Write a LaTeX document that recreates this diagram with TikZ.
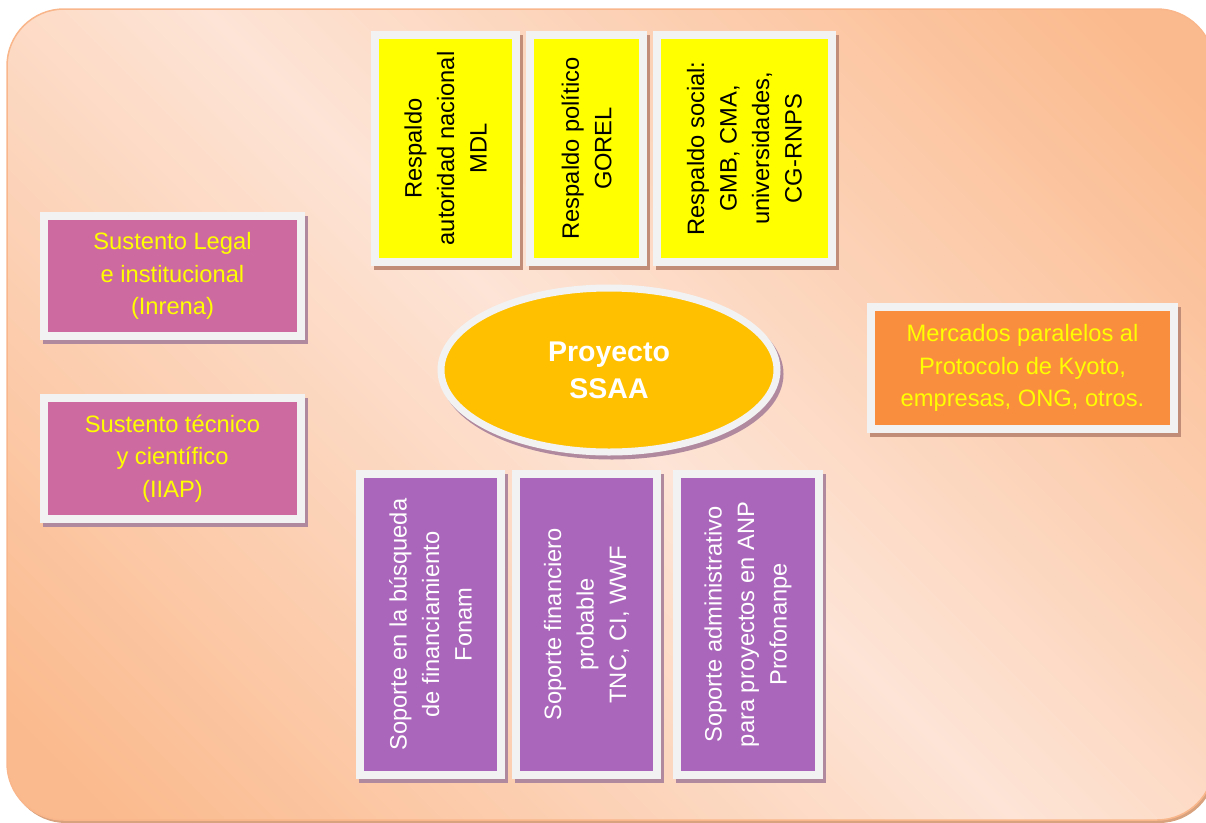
\documentclass[tikz,border=0pt]{standalone}
\usepackage{fontspec}
\setmainfont{Liberation Sans}
\usetikzlibrary{shapes.geometric,shadows}
\definecolor{bglt}{HTML}{FDE4D6}
\definecolor{bgdk}{HTML}{FBBA8D}
\definecolor{bgedge}{HTML}{F9B68A}
\definecolor{bgshadow}{HTML}{D9A27E}
\definecolor{framecol}{HTML}{F2F2F2}
\definecolor{yel}{HTML}{FFFF00}
\definecolor{pinkbox}{HTML}{CD6BA0}
\definecolor{purplebox}{HTML}{A966BA}
\definecolor{orangebox}{HTML}{F98E3F}
\definecolor{goldell}{HTML}{FFC000}
\definecolor{shbrown}{HTML}{C28D78}
\definecolor{shmauve}{HTML}{B0899E}
\pgfdeclareverticalshading{bgshade}{100bp}{color(0bp)=(bgdk); color(18bp)=(bgdk); color(50bp)=(bglt); color(82bp)=(bgdk); color(100bp)=(bgdk)}
\tikzset{
  box/.style={draw=framecol, line width=8pt, inner sep=0pt, align=center,
    font=\fontsize{23.7}{32.5}\selectfont},
  shadowed/.style={drop shadow={shadow xshift=3pt, shadow yshift=-4pt,
    fill=#1, draw=#1, line width=8pt, opacity=1}},
  topbox/.style={box, shadowed=shbrown, fill=yel, text=black, rotate=90, minimum width=227},
  botbox/.style={box, shadowed=shmauve, fill=purplebox, text=white, rotate=90, minimum width=301},
  leftbox/.style={box, shadowed=shmauve, fill=pinkbox, text=yel, minimum width=257},
  rightbox/.style={box, shadowed=shbrown, fill=orangebox, text=yel, minimum width=303, minimum height=122},
  centre/.style={ellipse, draw=framecol, line width=7pt, fill=goldell, text=white, inner sep=0pt,
    align=center, minimum width=336, minimum height=164,
    font=\bfseries\fontsize{28.5}{37}\selectfont,
    drop shadow={shadow xshift=3pt, shadow yshift=-4pt, fill=shmauve, draw=shmauve, line width=7pt, opacity=1}}
}
\begin{document}
\begin{tikzpicture}[x=1pt,y=-1pt]
\useasboundingbox (0,0) rectangle (1206,822);
% background panel
\fill[bgshadow, rounded corners=57pt] (9,12) rectangle (1216,823);
\path[shading=bgshade, shading angle=-45, draw=bgedge, line width=1.5pt, rounded corners=57pt] (7,9) rectangle (1214,820);

% top boxes
\node[topbox, minimum height=141] (t1) at (445.5,148.5) {Respaldo\\autoridad nacional\\MDL};
\node[topbox, minimum height=113] (t2) at (586.5,148.5) {Respaldo político\\GOREL};
\node[topbox, minimum height=175] (t3) at (744.5,148.5) {Respaldo social:\\GMB, CMA,\\universidades,\\CG-RNPS};

% left boxes
\node[leftbox, minimum height=120] (l1) at (172.5,276) {Sustento Legal\\e institucional\\(Inrena)};
\node[leftbox, minimum height=121] (l2) at (172.5,458.5) {Sustento técnico\\y científico\\(IIAP)};

% right box
\node[rightbox] (r1) at (1022.5,368) {Mercados paralelos al\\Protocolo de Kyoto,\\empresas, ONG, otros.};

% centre
\node[centre] (c) at (609,370) {Proyecto\\SSAA};

% bottom boxes
\node[botbox, minimum height=141] (b1) at (430.5,624.5) {Soporte en la búsqueda\\de financiamiento\\Fonam};
\node[botbox, minimum height=141] (b2) at (586.5,624.5) {Soporte financiero\\probable\\TNC, CI, WWF};
\node[botbox, minimum height=142] (b3) at (748,624.5) {Soporte administrativo\\para proyectos en ANP\\Profonanpe};
\end{tikzpicture}
\end{document}
